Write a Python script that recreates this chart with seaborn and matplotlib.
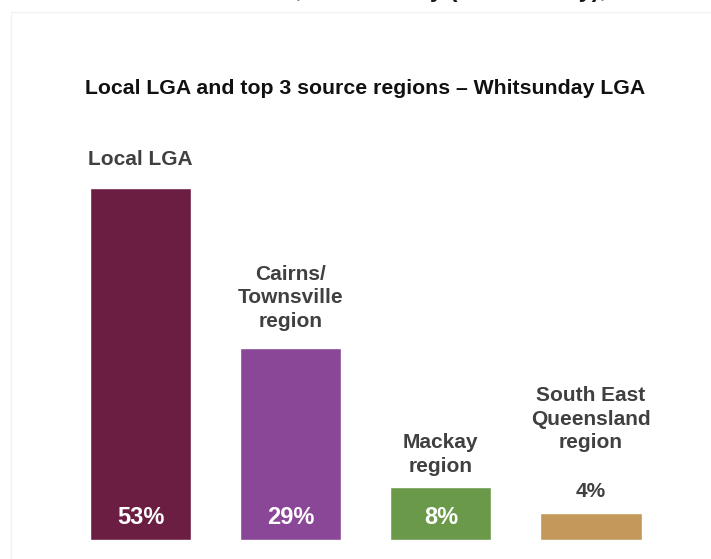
import matplotlib
matplotlib.use("Agg")
import matplotlib.pyplot as plt
import seaborn as sns
import pandas as pd
from matplotlib.patches import Rectangle

categories = ["Local LGA", "Cairns/\nTownsville\nregion", "Mackay\nregion", "South East\nQueensland\nregion"]
values = [53, 29, 8, 4]
value_labels = ["53%", "29%", "8%", "4%"]
colors = ["#6b1d42", "#8b4797", "#6a994a", "#c4975a"]
title = "Local LGA and top 3 source regions \u2013 Whitsunday LGA"
cut_header = "Source markets, Whitsunday (Whitsunday),"

# label offsets above bar tops (pixels)
cat_offsets = [23, 21, 15, 65]

sns.set_theme(style="white")
plt.rcParams["font.family"] = ["Liberation Sans", "DejaVu Sans"]

W, H = 711, 559
fig = plt.figure(figsize=(W / 100, H / 100), dpi=100)
fig.patch.set_facecolor("white")

# faint panel border
fig.patches.append(Rectangle((11 / W, -0.1), 1.2, (H - 12) / H + 0.1,
                             transform=fig.transFigure, fill=False,
                             edgecolor="#f2f2f2", lw=1.0))

# clipped header text at the very top (only descenders visible)
fig.text(606 / W, (H + 2.5) / H, cut_header, ha="right", va="baseline",
         fontsize=17, fontweight="bold", color="#1a1a1a")

ax = fig.add_axes([0, 19 / H, 1, 531 / H])
df = pd.DataFrame({"cat": categories, "val": values})
sns.barplot(data=df, x="cat", y="val", hue="cat", palette=colors,
            width=0.673, legend=False, ax=ax, saturation=1)
ax.set_xlim(-0.9356, 3.799)
ax.set_ylim(0, 80)
ax.axis("off")

for i, (v, cat, lab) in enumerate(zip(values, categories, value_labels)):
    if v >= 8:
        ax.annotate(lab, (i, 0), xytext=(0, 23), textcoords="offset pixels",
                    ha="center", va="center", color="white",
                    fontsize=17, fontweight="bold")
    else:
        ax.annotate(lab, (i, v), xytext=(0, 16), textcoords="offset pixels",
                    ha="center", va="baseline", color="#404040",
                    fontsize=15, fontweight="bold")
    ax.annotate(cat, (i, v), xytext=(0, cat_offsets[i]), textcoords="offset pixels",
                ha="center", va="baseline", color="#404040",
                fontsize=15, fontweight="bold", linespacing=1.3)

fig.text(365 / W, 1 - 88 / H, title, ha="center", va="center",
         fontsize=15.3, fontweight="bold", color="#111111")

fig.savefig("out.png", dpi=100, facecolor="white")
